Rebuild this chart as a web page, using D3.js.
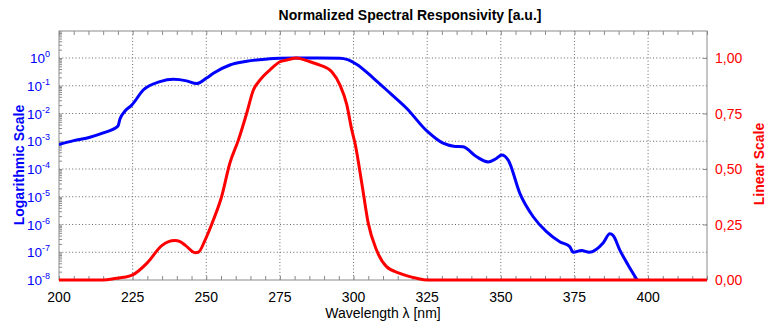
<!DOCTYPE html>
<html><head><meta charset="utf-8">
<script src="https://cdn.jsdelivr.net/npm/d3@7"></script>
<style>
html,body{margin:0;padding:0;background:#fff;}
svg{display:block;font-family:"Liberation Sans",Arial,sans-serif;}
</style></head>
<body>
<svg id="chart" width="767" height="324"></svg>
<script>
// ---- data ----
const titleText = "Normalized Spectral Responsivity [a.u.]";
const xLabel = "Wavelength \u03bb [nm]";
const leftLabel = "Logarithmic Scale";
const rightLabel = "Linear Scale";

const xTicks = [200, 225, 250, 275, 300, 325, 350, 375, 400];
const logExponents = [-8, -7, -6, -5, -4, -3, -2, -1, 0];
const linTicks = [0, 0.25, 0.5, 0.75, 1.0];
const linTickLabels = ["0,00", "0,25", "0,50", "0,75", "1,00"];

const blueWl = [200, 205, 210.5, 215, 220, 220.7, 222.5, 224.7, 228.6, 234.3, 238.8, 243.3, 246.7, 250.1, 252.4, 258, 263.7, 270, 275, 285, 295.4, 298, 301, 306.7, 312.4, 318, 324.8, 330.4, 334, 337.2, 341.8, 345.7, 348.5, 350.3, 352.5, 356.5, 361, 365.5, 370, 373.4, 374.6, 377.4, 380, 384.8, 387, 388.2, 390.4, 393.2, 396.3];
const blueVal = [7.6e-4, 1.05e-3, 1.4e-3, 2.0e-3, 3.5e-3, 6.3e-3, 1.25e-2, 2.0e-2, 7.0e-2, 0.14, 0.17, 0.15, 0.12, 0.19, 0.28, 0.56, 0.76, 0.91, 0.98, 1.0, 0.98, 0.87, 0.6, 0.19, 0.054, 0.0155, 2.4e-3, 8.5e-4, 6.6e-4, 6.3e-4, 2.75e-4, 1.8e-4, 2.4e-4, 3.2e-4, 2.1e-4, 1.3e-5, 1.9e-6, 5.5e-7, 2.4e-7, 1.6e-7, 1.0e-7, 1.15e-7, 1.0e-7, 2.2e-7, 4.6e-7, 3.9e-7, 1.2e-7, 3.5e-8, 1.0e-8];

const redWl = [200, 210, 215, 219.6, 222, 225, 229.8, 234.9, 237, 239.4, 241.1, 243, 246.2, 247.3, 249.6, 252.4, 255.2, 258, 260.9, 263.7, 266, 268.2, 271.6, 275, 278.4, 280.5, 285.2, 288.6, 292.6, 295.4, 297.7, 299.4, 300.5, 302.8, 305, 307.8, 311.2, 315.7, 321.4, 325, 350, 420];
const redVal = [0, 0, 0, 0.008, 0.012, 0.023, 0.075, 0.155, 0.172, 0.178, 0.173, 0.155, 0.123, 0.125, 0.18, 0.27, 0.375, 0.526, 0.63, 0.75, 0.856, 0.90, 0.946, 0.983, 0.994, 1.0, 0.983, 0.968, 0.938, 0.878, 0.79, 0.676, 0.616, 0.436, 0.255, 0.135, 0.06, 0.03, 0.008, 0, 0, 0];

// ---- layout ----
const L = 59, R = 707, T = 31, B = 280;
const svg = d3.select("#chart");

const x = d3.scaleLinear().domain([200, 420]).range([L, R]);
const yLog = d3.scaleLog().domain([1e-8, 1]).range([B, 58]);
const yLin = d3.scaleLinear().domain([0, 1]).range([B, 58]);

const gridColor = "#666", frameColor = "#8a8a8a";

// grid
const grid = svg.append("g");
grid.selectAll("line.v").data(xTicks.filter(d => d > 200)).join("line")
  .attr("x1", d => x(d)).attr("x2", d => x(d)).attr("y1", T).attr("y2", B)
  .attr("stroke", gridColor).attr("stroke-width", 1).attr("stroke-dasharray", "1,2.3");
grid.selectAll("line.h").data(logExponents.filter(e => e > -8)).join("line")
  .attr("x1", L).attr("x2", R).attr("y1", e => yLog(Math.pow(10, e))).attr("y2", e => yLog(Math.pow(10, e)))
  .attr("stroke", gridColor).attr("stroke-width", 1).attr("stroke-dasharray", "1,2.3");

// axes (inward ticks)
const minorX = d3.range(200, 421, 5);
const axB = svg.append("g").attr("transform", `translate(0,${B})`)
  .call(d3.axisBottom(x).tickValues(minorX).tickSize(-4).tickFormat(""));
const axT = svg.append("g").attr("transform", `translate(0,${T})`)
  .call(d3.axisTop(x).tickValues(minorX).tickSize(-4).tickFormat(""));
const logMinor = [];
for (let e = -8; e <= 0; e++) for (let m = 1; m <= 9; m++) { const v = m * Math.pow(10, e); if (v <= 9.3) logMinor.push(v); }
const axL = svg.append("g").attr("transform", `translate(${L},0)`)
  .call(d3.axisLeft(yLog).tickValues(logMinor).tickSize(-3).tickFormat(""));
const axR = svg.append("g").attr("transform", `translate(${R},0)`)
  .call(d3.axisRight(yLin).tickValues(linTicks).tickSize(-4).tickFormat(""));
[axB, axT, axL, axR].forEach(g => {
  g.select(".domain").remove();
  g.selectAll("line").attr("stroke", frameColor);
});

// frame
svg.append("rect").attr("x", L).attr("y", T).attr("width", R - L).attr("height", B - T)
  .attr("fill", "none").attr("stroke", frameColor).attr("stroke-width", 1);

// curves
svg.append("clipPath").attr("id", "clip").append("rect")
  .attr("x", L).attr("y", T).attr("width", R - L + 2).attr("height", B - T + 3);
const plot = svg.append("g").attr("clip-path", "url(#clip)");
const blueData = blueWl.map((w, i) => [w, blueVal[i]]);
const redData = redWl.map((w, i) => [w, redVal[i]]);
plot.append("path").datum(blueData)
  .attr("d", d3.line().x(d => x(d[0])).y(d => yLog(d[1])).curve(d3.curveMonotoneX))
  .attr("fill", "none").attr("stroke", "#0000ff").attr("stroke-width", 3).attr("stroke-linejoin", "round");
plot.append("path").datum(redData)
  .attr("d", d3.line().x(d => x(d[0])).y(d => yLin(d[1])).curve(d3.curveMonotoneX))
  .attr("fill", "none").attr("stroke", "#ff0000").attr("stroke-width", 3).attr("stroke-linejoin", "round");

// tick labels
svg.append("g").selectAll("text").data(xTicks.filter(d => d <= 400)).join("text")
  .attr("x", d => x(d)).attr("y", 302).attr("text-anchor", "middle")
  .attr("font-size", 14).attr("fill", "#000").text(d => d);

const ll = svg.append("g").selectAll("text").data(logExponents).join("text")
  .attr("x", 50).attr("y", e => yLog(Math.pow(10, e)) + 5).attr("text-anchor", "end")
  .attr("font-size", 13.5).attr("fill", "#0000ff");
ll.append("tspan").text("10");
ll.append("tspan").attr("font-size", 9).attr("dy", -6).text(e => e);

svg.append("g").selectAll("text").data(linTicks).join("text")
  .attr("x", 715).attr("y", d => yLin(d) + 5).attr("text-anchor", "start")
  .attr("font-size", 14).attr("fill", "#ff0000").text((d, i) => linTickLabels[i]);

// titles
svg.append("text").attr("x", 410).attr("y", 20).attr("text-anchor", "middle")
  .attr("font-size", 14).attr("font-weight", "bold").attr("fill", "#000").text(titleText);
svg.append("text").attr("x", (L + R) / 2).attr("y", 318).attr("text-anchor", "middle")
  .attr("font-size", 14).attr("fill", "#000").text(xLabel);
svg.append("text").attr("transform", "translate(24,165) rotate(-90)").attr("text-anchor", "middle")
  .attr("font-size", 14).attr("font-weight", "bold").attr("fill", "#0000ff").text(leftLabel);
svg.append("text").attr("transform", "translate(764,164) rotate(-90)").attr("text-anchor", "middle")
  .attr("font-size", 14).attr("font-weight", "bold").attr("fill", "#ff0000").text(rightLabel);
</script>
</body></html>
